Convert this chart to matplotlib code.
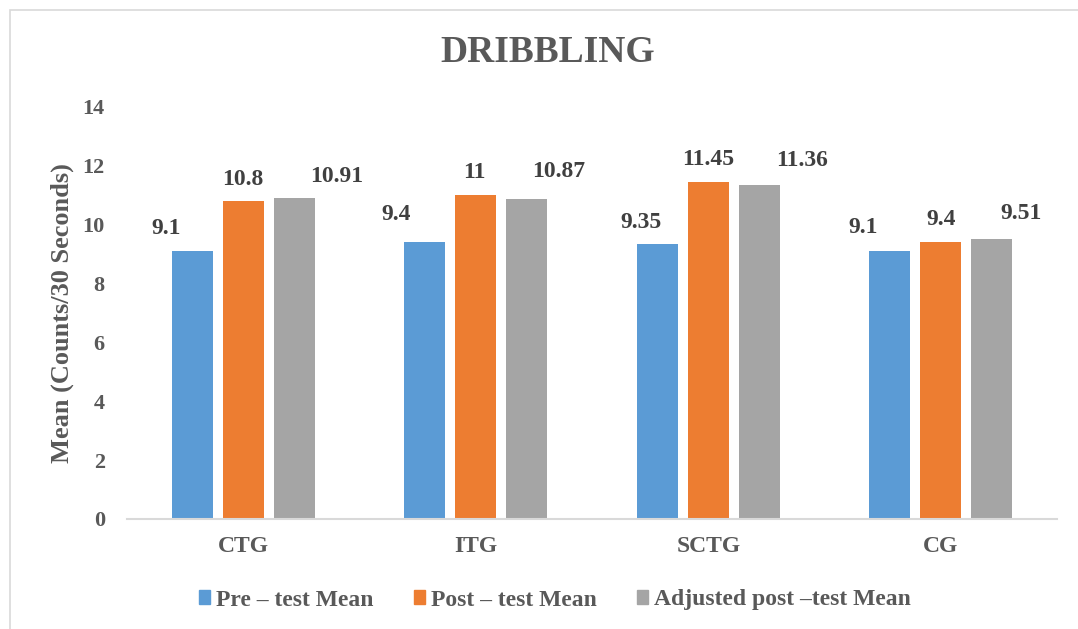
import numpy as np
import matplotlib.pyplot as plt
from matplotlib.patches import Patch, Rectangle

plt.rcParams['font.family'] = ['Liberation Serif', 'DejaVu Serif']
plt.rcParams['font.weight'] = 'bold'

groups = ['CTG', 'ITG', 'SCTG', 'CG']
series = ['Pre \u2013 test Mean', 'Post \u2013 test Mean', 'Adjusted post \u2013test Mean']
pre = [9.1, 9.4, 9.35, 9.1]
post = [10.8, 11, 11.45, 9.4]
adjusted = [10.91, 10.87, 11.36, 9.51]
values = [pre, post, adjusted]
labels = [['9.1', '9.4', '9.35', '9.1'],
          ['10.8', '11', '11.45', '9.4'],
          ['10.91', '10.87', '11.36', '9.51']]

colors = ['#5B9BD5', '#ED7D31', '#A5A5A5']
txt = '#595959'

# label nudges in pixels (x, y above bar top)
lbl_dx = [[-26, -28, -16, -26], [0, -1, 0, 0], [42, 32, 43, 29]]
lbl_dy = [[17, 22, 16, 18], [16, 17, 17, 17], [16, 22, 19, 20]]

W, H = 1078, 629
fig = plt.figure(figsize=(W / 100, H / 100), dpi=100)
ax = fig.add_axes([127 / W, 110 / H, 930 / W, 412 / H])

x = np.arange(len(groups))
offs = [-0.22, 0, 0.22]
for i, vals in enumerate(values):
    bars = ax.bar(x + offs[i], vals, width=0.176, color=colors[i], label=series[i])
    for j, b in enumerate(bars):
        ax.annotate(labels[i][j], (b.get_x() + b.get_width() / 2, b.get_height()),
                    xytext=(lbl_dx[i][j], lbl_dy[i][j]), textcoords='offset pixels',
                    ha='center', va='baseline', fontsize=17, color='#404040')

ax.set_xlim(-0.5, 3.5)
ax.set_ylim(0, 14)
ax.set_yticks(range(0, 15, 2))
ax.set_xticks(x)
ax.set_xticklabels(groups)
for s in ['top', 'right', 'left']:
    ax.spines[s].set_visible(False)
ax.spines['bottom'].set_color('#D9D9D9')
ax.spines['bottom'].set_linewidth(1.5)
ax.tick_params(axis='y', length=0, pad=16, labelsize=16, labelcolor=txt)
ax.tick_params(axis='x', length=0, pad=12, labelsize=17, labelcolor=txt)

fig.text(548 / W, 1 - 52 / H, 'DRIBBLING', ha='center', va='center',
         fontsize=27, color=txt)
fig.text(62 / W, 1 - 313 / H, 'Mean (Counts/30 Seconds)', rotation=90,
         ha='center', va='center', fontsize=19, color=txt)

handles = [Patch(color=c) for c in colors]
fig.legend(handles, series, loc='center', bbox_to_anchor=(555 / W, 1 - 600 / H),
           ncol=3, frameon=False, fontsize=17, labelcolor=txt,
           handlelength=0.47, handleheight=0.5, handletextpad=0.25,
           columnspacing=1.7)

# chart area border
fig.patches.append(Rectangle((10 / W, -0.1), 1.2, 1.1 - 10 / H, transform=fig.transFigure,
                             fill=False, edgecolor='#D9D9D9', linewidth=1.2))

fig.savefig('out.png', dpi=100)
